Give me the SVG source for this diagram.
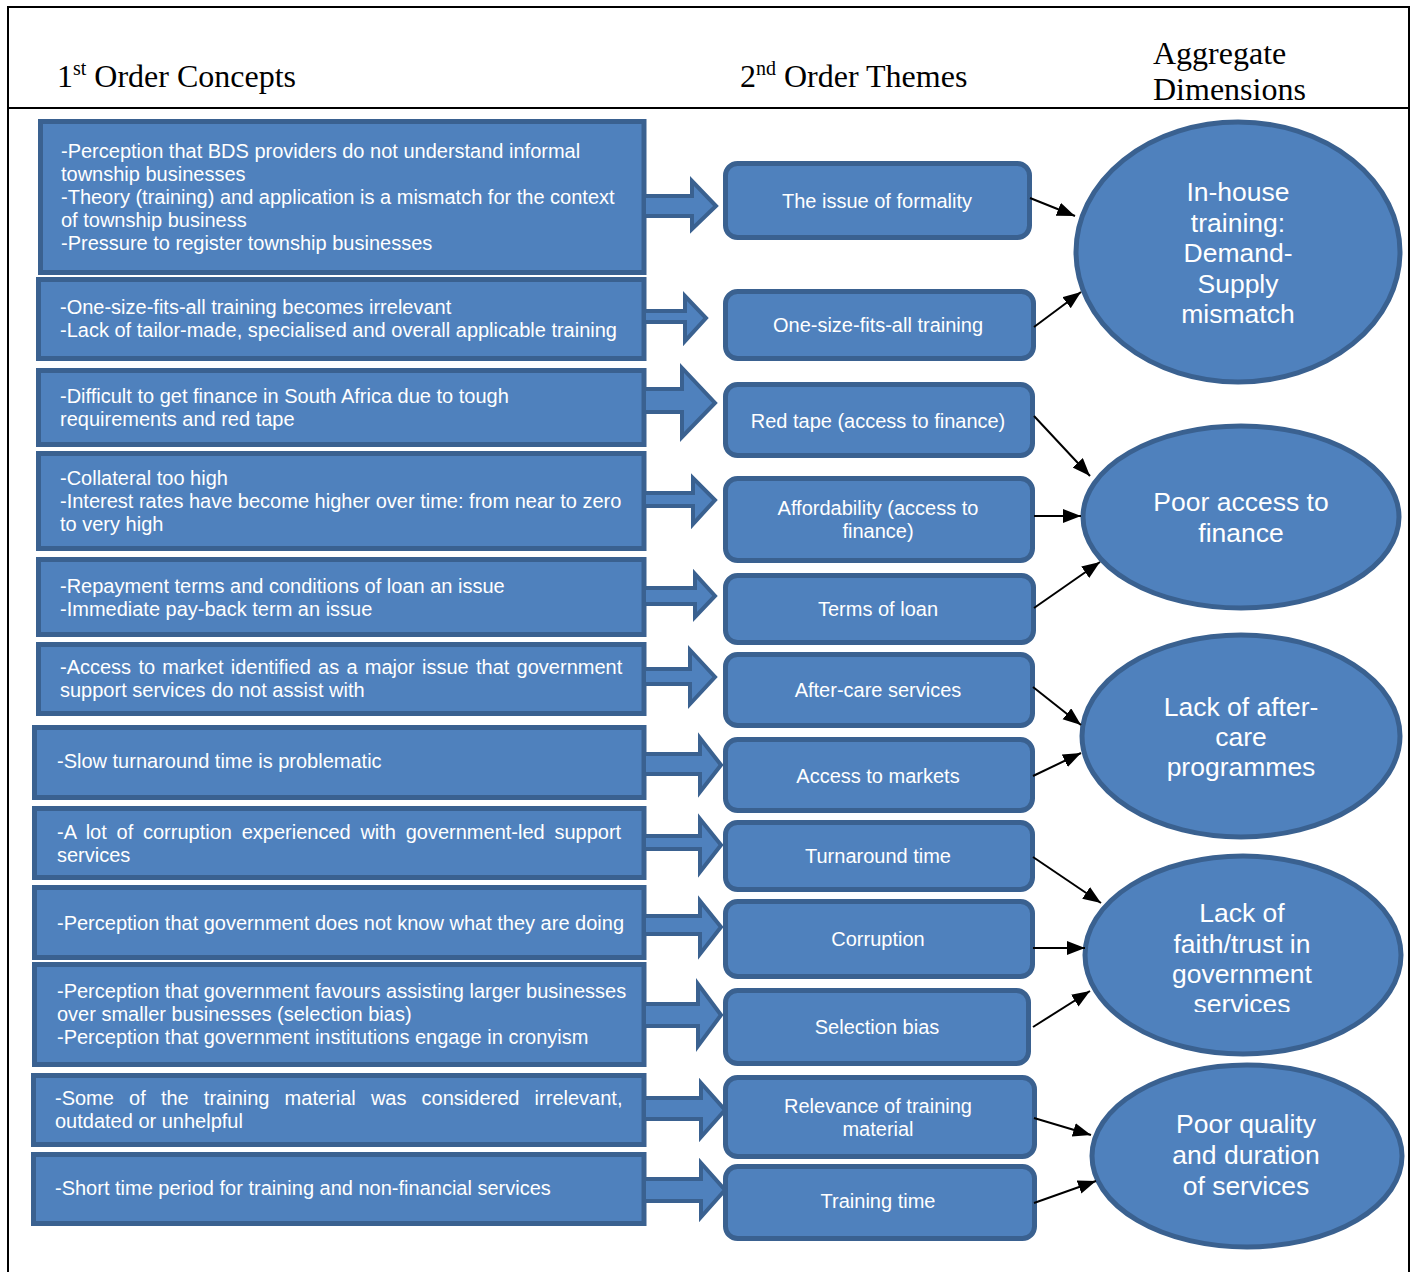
<svg xmlns="http://www.w3.org/2000/svg" width="1413" height="1272" viewBox="0 0 1413 1272">
<defs>
<style>
.frame{fill:none;stroke:#000;stroke-width:2}
.hdr{font-family:"Liberation Serif","Times New Roman",serif;font-size:32px;fill:#000}
.box{fill:#4F81BD;stroke:#3A6190;stroke-width:5}
.theme{fill:#4F81BD;stroke:#3A6190;stroke-width:5}
.ell{fill:#4F81BD;stroke:#3A6190;stroke-width:5}
.barrow{fill:#4F81BD;stroke:#3A6190;stroke-width:4;stroke-linejoin:miter}
.t{font-family:"Liberation Sans",Arial,sans-serif;font-size:20px;fill:#fff}
.tm{font-family:"Liberation Sans",Arial,sans-serif;font-size:20px;fill:#fff;text-anchor:middle}
.te{font-family:"Liberation Sans",Arial,sans-serif;font-size:26.5px;fill:#fff;text-anchor:middle}
.conn{stroke:#000;stroke-width:2;fill:none;marker-end:url(#ah)}
</style>
<marker id="ah" markerUnits="userSpaceOnUse" markerWidth="20" markerHeight="16" refX="18" refY="7" orient="auto">
<path d="M0,0 L18,7 L0,14 Z" fill="#000"/>
</marker>
<clipPath id="clipSvc"><rect x="1083" y="850" width="330" height="162"/></clipPath>
</defs>

<g id="frame">
<rect class="frame" x="8" y="7" width="1401" height="1280"/>
<line class="frame" x1="8" y1="108" x2="1409" y2="108"/>
<text class="hdr" x="57" y="87">1<tspan font-size="20" dy="-12">st</tspan><tspan dy="12"> Order Concepts</tspan></text>
<text class="hdr" x="740" y="87">2<tspan font-size="20" dy="-12">nd</tspan><tspan dy="12"> Order Themes</tspan></text>
<text class="hdr" x="1153" y="64">Aggregate</text>
<text class="hdr" x="1153" y="100">Dimensions</text>
</g>

<g id="concept1"><rect class="box" x="40.5" y="121.5" width="603.5" height="151"/>
<text class="t" x="61" y="158">-Perception that BDS providers do not understand informal</text>
<text class="t" x="61" y="181">township businesses</text>
<text class="t" x="61" y="204">-Theory (training) and application is a mismatch for the context</text>
<text class="t" x="61" y="227">of township business</text>
<text class="t" x="61" y="250">-Pressure to register township businesses</text></g>

<g id="concept2"><rect class="box" x="38.5" y="279.5" width="605.5" height="79"/>
<text class="t" x="60" y="313.5">-One-size-fits-all training becomes irrelevant</text>
<text class="t" x="60" y="336.5">-Lack of tailor-made, specialised and overall applicable training</text></g>

<g id="concept3"><rect class="box" x="38.5" y="370.5" width="605.5" height="74"/>
<text class="t" x="60" y="403">-Difficult to get finance in South Africa due to tough</text>
<text class="t" x="60" y="426">requirements and red tape</text></g>

<g id="concept4"><rect class="box" x="38.5" y="453.5" width="605.5" height="95"/>
<text class="t" x="60" y="485">-Collateral too high</text>
<text class="t" x="60" y="508">-Interest rates have become higher over time: from near to zero</text>
<text class="t" x="60" y="531">to very high</text></g>

<g id="concept5"><rect class="box" x="38.5" y="559.5" width="605.5" height="75"/>
<text class="t" x="60" y="593">-Repayment terms and conditions of loan an issue</text>
<text class="t" x="60" y="616">-Immediate pay-back term an issue</text></g>

<g id="concept6"><rect class="box" x="38.5" y="644.5" width="605.5" height="69"/>
<text class="t" x="60" y="674" word-spacing="1.7">-Access to market identified as a major issue that government</text>
<text class="t" x="60" y="697">support services do not assist with</text></g>

<g id="concept7"><rect class="box" x="34.5" y="727.5" width="609.5" height="70"/>
<text class="t" x="57" y="768">-Slow turnaround time is problematic</text></g>

<g id="concept8"><rect class="box" x="34.5" y="808.5" width="609.5" height="69"/>
<text class="t" x="57" y="839" word-spacing="4.2">-A lot of corruption experienced with government-led support</text>
<text class="t" x="57" y="862">services</text></g>

<g id="concept9"><rect class="box" x="34.5" y="887.5" width="609.5" height="70"/>
<text class="t" x="57" y="930">-Perception that government does not know what they are doing</text></g>

<g id="concept10"><rect class="box" x="34.5" y="964.5" width="609.5" height="100"/>
<text class="t" x="57" y="998">-Perception that government favours assisting larger businesses</text>
<text class="t" x="57" y="1021">over smaller businesses (selection bias)</text>
<text class="t" x="57" y="1044">-Perception that government institutions engage in cronyism</text></g>

<g id="concept11"><rect class="box" x="33.5" y="1075.5" width="610.5" height="69"/>
<text class="t" x="55" y="1105" word-spacing="9.6">-Some of the training material was considered irrelevant,</text>
<text class="t" x="55" y="1128">outdated or unhelpful</text></g>

<g id="concept12"><rect class="box" x="33.5" y="1154.5" width="610.5" height="69"/>
<text class="t" x="55" y="1195">-Short time period for training and non-financial services</text></g>

<g id="theme1"><rect class="theme" x="725.5" y="163.5" width="304" height="74" rx="12"/>
<text class="tm" x="877" y="208">The issue of formality</text></g>
<g id="theme2"><rect class="theme" x="725.5" y="291.5" width="308" height="67" rx="12"/>
<text class="tm" x="878" y="332">One-size-fits-all training</text></g>
<g id="theme3"><rect class="theme" x="725.5" y="384.5" width="307" height="71" rx="12"/>
<text class="tm" x="878" y="428">Red tape (access to finance)</text></g>
<g id="theme4"><rect class="theme" x="725.5" y="478.5" width="307" height="82" rx="12"/>
<text class="tm" x="878" y="515">Affordability (access to</text>
<text class="tm" x="878" y="538">finance)</text></g>
<g id="theme5"><rect class="theme" x="725.5" y="575.5" width="308" height="67" rx="12"/>
<text class="tm" x="878" y="616">Terms of loan</text></g>
<g id="theme6"><rect class="theme" x="725.5" y="654.5" width="307" height="71" rx="12"/>
<text class="tm" x="878" y="697">After-care services</text></g>
<g id="theme7"><rect class="theme" x="725.5" y="739.5" width="307" height="71" rx="12"/>
<text class="tm" x="878" y="783">Access to markets</text></g>
<g id="theme8"><rect class="theme" x="725.5" y="822.5" width="307" height="67" rx="12"/>
<text class="tm" x="878" y="863">Turnaround time</text></g>
<g id="theme9"><rect class="theme" x="725.5" y="901.5" width="307" height="75" rx="12"/>
<text class="tm" x="878" y="946">Corruption</text></g>
<g id="theme10"><rect class="theme" x="725.5" y="990.5" width="303" height="73" rx="12"/>
<text class="tm" x="877" y="1034">Selection bias</text></g>
<g id="theme11"><rect class="theme" x="725.5" y="1077.5" width="309" height="79" rx="12"/>
<text class="tm" x="878" y="1113">Relevance of training</text>
<text class="tm" x="878" y="1136">material</text></g>
<g id="theme12"><rect class="theme" x="725.5" y="1166.5" width="309" height="72" rx="12"/>
<text class="tm" x="878" y="1208">Training time</text></g>

<g id="dim1"><ellipse class="ell" cx="1238" cy="252" rx="162" ry="130"/>
<text class="te" x="1238" y="201">In-house</text>
<text class="te" x="1238" y="231.5">training:</text>
<text class="te" x="1238" y="262">Demand-</text>
<text class="te" x="1238" y="292.5">Supply</text>
<text class="te" x="1238" y="323">mismatch</text></g>
<g id="dim2"><ellipse class="ell" cx="1241" cy="517" rx="158" ry="91"/>
<text class="te" x="1241" y="511">Poor access to</text>
<text class="te" x="1241" y="542">finance</text></g>
<g id="dim3"><ellipse class="ell" cx="1241" cy="736" rx="159" ry="101"/>
<text class="te" x="1241" y="716">Lack of after-</text>
<text class="te" x="1241" y="746">care</text>
<text class="te" x="1241" y="776">programmes</text></g>
<g id="dim4"><ellipse class="ell" cx="1243" cy="955" rx="158" ry="99"/>
<text class="te" x="1242" y="922">Lack of</text>
<text class="te" x="1242" y="953">faith/trust in</text>
<text class="te" x="1242" y="983">government</text>
<text class="te" x="1242" y="1013" clip-path="url(#clipSvc)">services</text></g>
<g id="dim5"><ellipse class="ell" cx="1247" cy="1156" rx="155" ry="91"/>
<text class="te" x="1246" y="1133">Poor quality</text>
<text class="te" x="1246" y="1164">and duration</text>
<text class="te" x="1246" y="1195">of services</text></g>

<g id="connectors">
<polygon class="barrow" points="644,196 692,196 692,181 716,206 692,229 692,216 644,216"/>
<polygon class="barrow" points="644,311 685,311 685,296 706,318 685,341 685,322 644,322"/>
<polygon class="barrow" points="644,389 682,389 682,368 715,403 682,437 682,412 644,412"/>
<polygon class="barrow" points="644,493 693,493 693,478 715,500 693,524 693,506 644,506"/>
<polygon class="barrow" points="644,588 695,588 695,574 715,596 695,617 695,604 644,604"/>
<polygon class="barrow" points="644,669 690,669 690,650 715,677 690,704 690,684 644,684"/>
<polygon class="barrow" points="644,754 700,754 700,738 721,765 700,792 700,774 644,774"/>
<polygon class="barrow" points="644,836 700,836 700,819 721,845 700,872 700,849 644,849"/>
<polygon class="barrow" points="644,916 700,916 700,901 721,927 700,954 700,934 644,934"/>
<polygon class="barrow" points="644,1004 698,1004 698,984 721,1015 698,1046 698,1026 644,1026"/>
<polygon class="barrow" points="644,1098 701,1098 701,1083 725,1110 701,1137 701,1119 644,1119"/>
<polygon class="barrow" points="644,1179 701,1179 701,1163 725,1190 701,1217 701,1201 644,1201"/>

<line class="conn" x1="1030" y1="198" x2="1075" y2="216"/>
<line class="conn" x1="1034" y1="327" x2="1081" y2="292"/>
<line class="conn" x1="1034" y1="416" x2="1090" y2="476"/>
<line class="conn" x1="1034" y1="516" x2="1081" y2="516"/>
<line class="conn" x1="1034" y1="608" x2="1100" y2="562"/>
<line class="conn" x1="1033" y1="687" x2="1081" y2="725"/>
<line class="conn" x1="1033" y1="776" x2="1081" y2="753"/>
<line class="conn" x1="1033" y1="857" x2="1101" y2="903"/>
<line class="conn" x1="1033" y1="948" x2="1085" y2="948"/>
<line class="conn" x1="1033" y1="1027" x2="1090" y2="991"/>
<line class="conn" x1="1034" y1="1118" x2="1091" y2="1135"/>
<line class="conn" x1="1034" y1="1203" x2="1096" y2="1181"/>
</g>
</svg>
